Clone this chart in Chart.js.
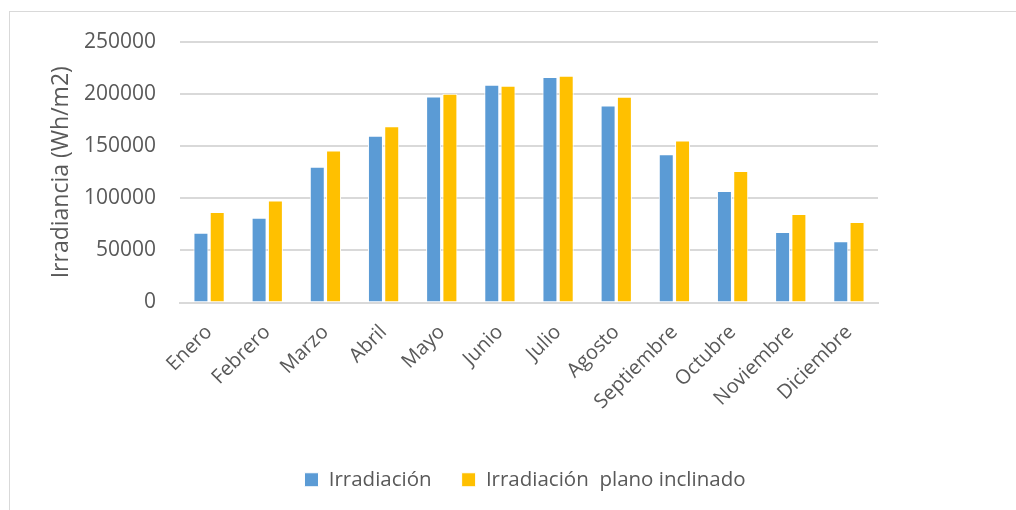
<!DOCTYPE html>
<html>
<head>
<meta charset="utf-8">
<script src="https://cdn.jsdelivr.net/npm/chart.js@4"></script>
<style>
  html, body { margin: 0; padding: 0; background: #fff; }
  #wrap { position: relative; width: 1016px; height: 510px; overflow: hidden; }
  #frame { position: absolute; left: 9px; top: 11px; width: 1020px; height: 520px; border: 1px solid #d9d9d9; box-sizing: border-box; }
  canvas { position: absolute; left: 0; top: 0; }
</style>
</head>
<body>
<div id="wrap">
  <div id="frame"></div>
  <canvas id="barchart" width="1016" height="510"></canvas>
</div>
<script>
var months = ["Enero", "Febrero", "Marzo", "Abril", "Mayo", "Junio", "Julio", "Agosto", "Septiembre", "Octubre", "Noviembre", "Diciembre"];
var irradiacion = [67000, 81400, 130200, 160000, 197800, 209000, 216300, 189100, 142300, 107100, 67700, 58700];
var irradiacionInclinado = [86900, 97800, 145900, 169200, 200300, 208000, 217700, 197500, 155500, 126300, 85000, 77300];
var yTicks = [0, 50000, 100000, 150000, 200000, 250000];

var blue = '#5B9BD5';
var yellow = '#FFC000';
var textColor = '#595959';
var gridColor = '#d9d9d9';
var fontFamily = "'Open Sans', sans-serif";

// the legend sits a bit right of the plot's centre in the original
var legendShift = {
    id: 'legendShift',
    afterLayout: function (chart) {
        chart.legend.left += 62;
        chart.legend.right += 62;
        chart.legend.top += 2;
        chart.legend.bottom += 2;
    }
};

function renderChart() {
    var ctx = document.getElementById("barchart").getContext('2d');
    var chart = new Chart(ctx, {
        type: 'bar',
        data: {
            labels: months,
            datasets: [{
                label: 'Irradiación',
                data: irradiacion,
                backgroundColor: blue,
                borderColor: '#ffffff',
                borderWidth: 1
            }, {
                label: 'Irradiación  plano inclinado',
                data: irradiacionInclinado,
                backgroundColor: yellow,
                borderColor: '#ffffff',
                borderWidth: 1
            }]
        },
        plugins: [legendShift],
        options: {
            responsive: false,
            animation: false,
            layout: {
                padding: { left: 48, right: 138, top: 42, bottom: 12 }
            },
            datasets: {
                bar: { categoryPercentage: 0.56, barPercentage: 0.92 }
            },
            plugins: {
                legend: {
                    position: 'bottom',
                    labels: {
                        color: textColor,
                        font: { family: fontFamily, size: 20.5 },
                        boxWidth: 14,
                        boxHeight: 14,
                        padding: 30,
                        useBorderRadius: false
                    }
                },
                tooltip: { enabled: false }
            },
            scales: {
                x: {
                    grid: { display: false },
                    border: { color: gridColor, width: 2 },
                    ticks: {
                        color: textColor,
                        font: { family: fontFamily, size: 20 },
                        minRotation: 45,
                        maxRotation: 45,
                        padding: 10
                    },
                    afterFit: function (scale) { scale.height = 135; }
                },
                y: {
                    min: 0,
                    max: 250000,
                    afterBuildTicks: function (scale) {
                        scale.ticks = yTicks.map(function (v) { return { value: v }; });
                    },
                    afterFit: function (scale) { scale.width = 132; },
                    grid: { color: gridColor, lineWidth: 2, drawTicks: false },
                    border: { display: false },
                    ticks: {
                        color: textColor,
                        font: { family: fontFamily, size: 21 },
                        padding: 24,
                        callback: function (v) { return String(v); }
                    },
                    title: {
                        display: true,
                        text: 'Irradiancia (Wh/m2)',
                        color: textColor,
                        font: { family: fontFamily, size: 23 },
                        padding: 0
                    }
                }
            }
        }
    });
}

renderChart();
</script>
</body>
</html>
